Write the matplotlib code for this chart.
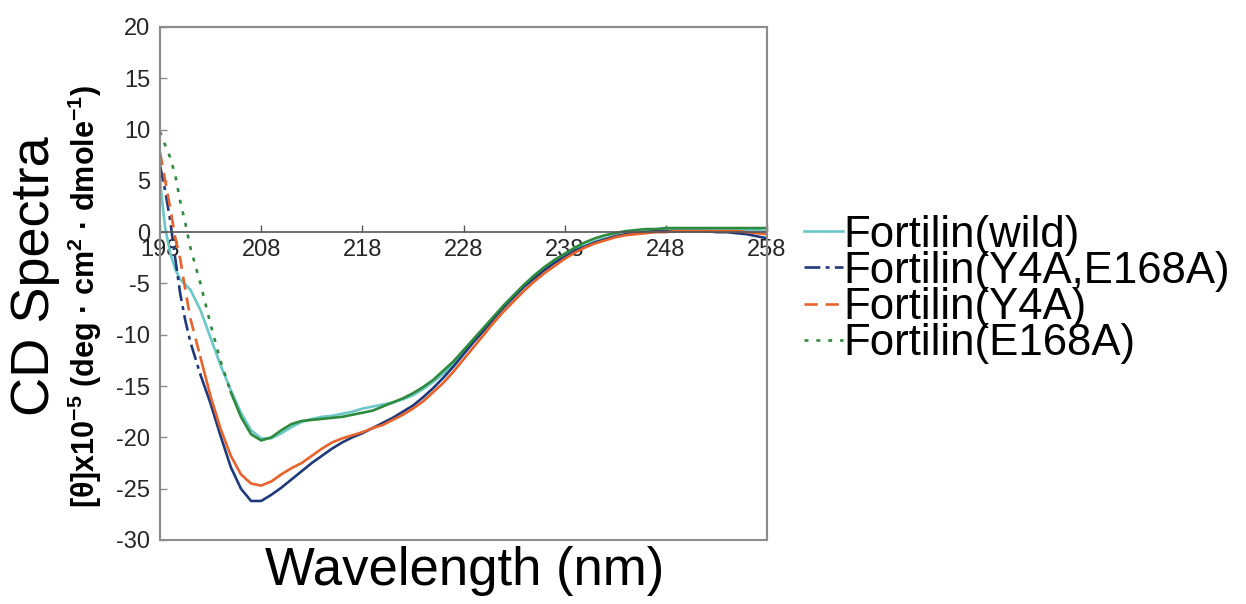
import numpy as np
import matplotlib
matplotlib.use("Agg")
import matplotlib.pyplot as plt
from matplotlib.patches import Rectangle
from matplotlib.lines import Line2D

plt.rcParams['font.family'] = ['Liberation Sans', 'DejaVu Sans']
plt.rcParams['mathtext.fontset'] = 'custom'
plt.rcParams['mathtext.rm'] = 'Liberation Sans'
plt.rcParams['mathtext.bf'] = 'Liberation Sans:bold'
plt.rcParams['axes.unicode_minus'] = False

# wavelength (nm) and CD values
wavelength = [198, 198.5, 199, 199.5, 200, 200.5, 201] + list(range(202, 259))

wild = [5.0, 0.5, -2.0, -3.6, -4.6, -5.1, -5.6,
        -7.6, -10.3, -13.0, -15.4, -17.6, -19.3, -20.1, -20.1, -19.6, -19.0,
        -18.5, -18.2, -18.0, -17.9, -17.7, -17.5, -17.2, -17.0, -16.8, -16.6,
        -16.3, -15.9, -15.3, -14.6, -13.8, -12.8, -11.7, -10.6, -9.5, -8.4,
        -7.3, -6.3, -5.3, -4.4, -3.6, -2.9, -2.3, -1.7, -1.3, -0.9,
        -0.6, -0.4, -0.2, 0.0, 0.1, 0.2, 0.2, 0.3, 0.3, 0.3,
        0.3, 0.3, 0.3, 0.3, 0.2, 0.2, 0.1]

y4a_e168a = [6.5, 4.1, 1.2, -2.5, -6.0, -8.6, -10.7,
             -13.9, -16.7, -19.9, -22.9, -25.0, -26.2, -26.2, -25.6, -24.9, -24.1,
             -23.3, -22.5, -21.8, -21.1, -20.5, -20.0, -19.6, -19.1, -18.6, -18.1,
             -17.5, -16.9, -16.1, -15.2, -14.2, -13.1, -11.9, -10.7, -9.6, -8.4,
             -7.3, -6.3, -5.3, -4.5, -3.7, -3.0, -2.4, -1.8, -1.4, -1.0,
             -0.7, -0.4, -0.2, -0.1, 0.0, 0.1, 0.1, 0.1, 0.1, 0.1,
             0.1, 0.0, 0.0, -0.1, -0.2, -0.4, -0.6]

y4a = [7.8, 5.1, 2.4, -0.5, -2.6, -5.6, -8.4,
       -12.2, -16.0, -19.2, -21.8, -23.6, -24.5, -24.7, -24.3, -23.6, -23.0,
       -22.5, -21.8, -21.1, -20.5, -20.1, -19.8, -19.5, -19.1, -18.8, -18.3,
       -17.8, -17.2, -16.5, -15.6, -14.7, -13.6, -12.4, -11.2, -10.0, -8.8,
       -7.7, -6.7, -5.7, -4.8, -4.0, -3.3, -2.6, -2.0, -1.5, -1.1,
       -0.8, -0.5, -0.3, -0.2, -0.1, 0.0, 0.0, 0.1, 0.1, 0.1,
       0.1, 0.1, 0.1, 0.1, 0.0, -0.1, -0.2]

e168a = [9.8, 8.5, 7.3, 5.6, 3.0, 0.9, -1.5,
         -5.0, -9.0, -12.6, -15.6, -18.0, -19.7, -20.3, -20.0, -19.3, -18.7,
         -18.4, -18.3, -18.2, -18.1, -18.0, -17.8, -17.6, -17.4, -17.0, -16.6,
         -16.2, -15.7, -15.1, -14.4, -13.5, -12.6, -11.5, -10.4, -9.3, -8.2,
         -7.1, -6.1, -5.1, -4.2, -3.4, -2.7, -2.1, -1.5, -1.0, -0.6,
         -0.3, -0.1, 0.1, 0.2, 0.3, 0.3, 0.4, 0.4, 0.4, 0.4,
         0.4, 0.4, 0.4, 0.4, 0.4, 0.4, 0.4]

labels = ["Fortilin(wild)", "Fortilin(Y4A,E168A)", "Fortilin(Y4A)", "Fortilin(E168A)"]
x_ticks = [198, 208, 218, 228, 238, 248, 258]
y_ticks = list(range(-30, 21, 5))

# style per series: colour, dash pattern, wavelength where the dashes stop
# (the original drawing only shows the dash pattern on the steep start)
series = [
    (wild, '#6cc8c8', '-', 198),
    (y4a_e168a, '#1f3a7a', (0, (6, 2, 1.5, 2)), 202),
    (y4a, '#e8622c', (0, (5, 3)), 202),
    (e168a, '#2e8a3c', (0, (1.5, 3)), 205),
]

fig = plt.figure(figsize=(12.46, 6.04), dpi=100)
ax = fig.add_axes([0.1284, 0.106, 0.4872, 0.8494])

wl = np.array(wavelength)
handles = []
for vals, color, ls, cut in series:
    vals = np.array(vals)
    k = int(np.searchsorted(wl, cut)) + 1
    if k > 1:
        ax.plot(wl[:k], vals[:k], color=color, lw=1.9, linestyle=ls)
    ax.plot(wl[k - 1:], vals[k - 1:], color=color, lw=1.9, linestyle='-')
    handles.append(Line2D([], [], color=color, lw=1.9, linestyle=ls))

ax.set_xlim(198, 258)
ax.set_ylim(-30, 20)
ax.set_xticks(x_ticks)
ax.set_yticks(y_ticks)

# x axis crosses at zero, frame drawn around the plot area
ax.spines['bottom'].set_position(('data', 0))
ax.spines['bottom'].set_color('#555555')
ax.spines['bottom'].set_linewidth(1.2)
for s in ['top', 'right', 'left']:
    ax.spines[s].set_color('#8c8c8c')
    ax.spines[s].set_linewidth(1.5)
ax.add_patch(Rectangle((0, 0), 1, 1, transform=ax.transAxes, fill=False,
                       ec='#8c8c8c', lw=1.5, clip_on=False, zorder=3))

ax.tick_params(axis='x', direction='in', length=5, width=1, color='#555555',
               labelsize=17, pad=5, labelcolor='#262626')
ax.tick_params(axis='y', direction='in', length=5, width=1, color='#8c8c8c',
               labelsize=17, pad=7, labelcolor='#262626')

fig.text(0.373, 0.055, "Wavelength (nm)", fontsize=38, ha='center', va='center')
fig.text(0.028, 0.543, "CD Spectra", fontsize=39, rotation=90,
         ha='center', va='center')
fig.text(0.068, 0.51,
         r"[θ]x10$^{\mathbf{-5}}$ (deg · cm$^{\mathbf{2}}$ · dmole$^{\mathbf{-1}}$)",
         fontsize=22, fontweight='bold', rotation=90, ha='center', va='center')

fig.legend(handles, labels, loc='center left', bbox_to_anchor=(0.645, 0.521),
           frameon=False, fontsize=31.5, handlelength=0.9, handletextpad=0.0,
           labelspacing=-0.11, borderpad=0, borderaxespad=0)

fig.savefig("out.png", dpi=100)
